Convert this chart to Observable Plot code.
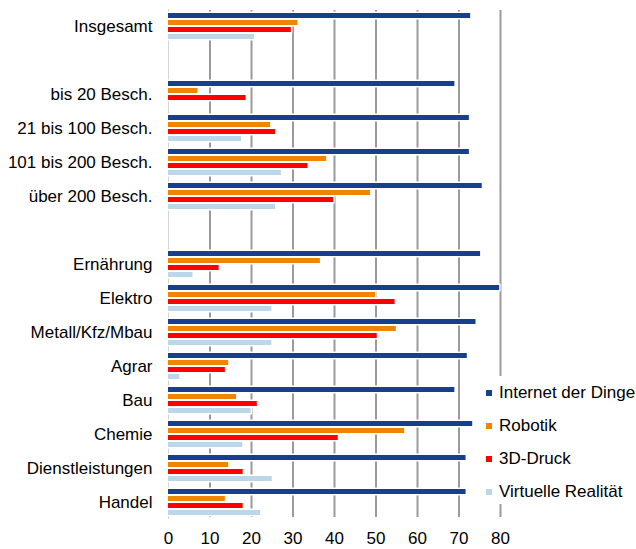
<!DOCTYPE html>
<html>
<head>
<meta charset="utf-8">
<script src="https://cdn.jsdelivr.net/npm/d3@7"></script>
<script src="https://cdn.jsdelivr.net/npm/@observablehq/plot@0.6"></script>
<style>
  body { margin: 0; background: #fff; }
  #wrap { position: relative; width: 636px; height: 549px; font-family: "Liberation Sans", Arial, sans-serif; }
  #legend { position: absolute; left: 476px; top: 376px; width: 160px; height: 128px; background: #fff; }
  .item { position: absolute; left: 0; height: 20px; line-height: 20px; font-size: 17px; color: #000; white-space: nowrap; }
  .sw { position: absolute; left: 10px; top: 7px; width: 6px; height: 6px; }
  .lb { position: absolute; left: 23px; top: 0; }
</style>
</head>
<body>
<div id="wrap"></div>
<script>
// Row order (blank strings are the empty spacer rows)
const rowDomain = ["Insgesamt", " ", "bis 20 Besch.", "21 bis 100 Besch.", "101 bis 200 Besch.", "über 200 Besch.", "  ",
  "Ernährung", "Elektro", "Metall/Kfz/Mbau", "Agrar", "Bau", "Chemie", "Dienstleistungen", "Handel"];
const categories = ["Insgesamt", "bis 20 Besch.", "21 bis 100 Besch.", "101 bis 200 Besch.", "über 200 Besch.",
  "Ernährung", "Elektro", "Metall/Kfz/Mbau", "Agrar", "Bau", "Chemie", "Dienstleistungen", "Handel"];
const seriesNames = ["Internet der Dinge", "Robotik", "3D-Druck", "Virtuelle Realität"];
const iot     = [72.8, 69.0, 72.5, 72.5, 75.6, 75.2, 79.8, 74.1, 72.0, 69.0, 73.3, 71.7, 71.7];
const robotik = [31.2,  7.1, 24.6, 38.1, 48.7, 36.6, 49.9, 54.9, 14.5, 16.4, 56.9, 14.5, 13.7];
const druck   = [29.6, 18.7, 25.8, 33.6, 39.8, 12.2, 54.6, 50.3, 13.7, 21.4, 40.9, 18.0, 18.0];
const vr      = [20.7, null, 17.6, 27.2, 25.8,  5.9, 24.9, 24.9,  2.7, 19.9, 17.9, 25.0, 22.2];
const xTicks  = [0, 10, 20, 30, 40, 50, 60, 70, 80];

const seriesValues = [iot, robotik, druck, vr];
const colors = ["#163f8c", "#f28500", "#ff0000", "#bcd6ea"];
const insetTops = [4, 11, 18, 25];
const barH = 5;
const band = 34;

const marks = [
  Plot.ruleX([0], {stroke: "#d4d4d4", strokeWidth: 1}),
  Plot.ruleX(xTicks.filter(d => d > 0), {stroke: "#9a9a9a", strokeWidth: 2, insetTop: 1, insetBottom: 2})
];
seriesValues.forEach((vals, i) => {
  const data = categories.map((c, j) => ({cat: c, value: vals[j]})).filter(d => d.value != null);
  const opts = {y: "cat", x: "value", insetTop: insetTops[i], insetBottom: band - insetTops[i] - barH};
  marks.push(Plot.barX(data, {...opts, fill: "#fff", stroke: "#fff", strokeWidth: 3}));
});
seriesValues.forEach((vals, i) => {
  const data = categories.map((c, j) => ({cat: c, value: vals[j]})).filter(d => d.value != null);
  marks.push(Plot.barX(data, {y: "cat", x: "value", fill: colors[i],
    insetTop: insetTops[i], insetBottom: band - insetTops[i] - barH}));
});
marks.push(Plot.axisY({domain: rowDomain, tickSize: 0, tickPadding: 16, fontSize: 17, label: null}));
marks.push(Plot.axisX({ticks: xTicks, tickSize: 0, tickPadding: 12, fontSize: 17, label: null}));

const chart = Plot.plot({
  width: 636,
  height: 549,
  marginTop: 9,
  marginBottom: 30,
  marginLeft: 168,
  marginRight: 136,
  style: {fontFamily: "'Liberation Sans', Arial, sans-serif", fontSize: "17px", color: "#000", background: "#fff"},
  x: {domain: [0, 80], label: null},
  y: {domain: rowDomain, padding: 0, label: null},
  marks
});
const wrap = document.getElementById("wrap");
wrap.appendChild(chart);

const legend = document.createElement("div");
legend.id = "legend";
const rowCenters = [17, 50, 83, 115.5];
seriesNames.forEach((name, i) => {
  const it = document.createElement("div");
  it.className = "item";
  it.style.top = (rowCenters[i] - 10) + "px";
  it.innerHTML = `<span class="sw" style="background:${colors[i]}"></span><span class="lb">${name}</span>`;
  legend.appendChild(it);
});
wrap.appendChild(legend);
</script>
</body>
</html>
